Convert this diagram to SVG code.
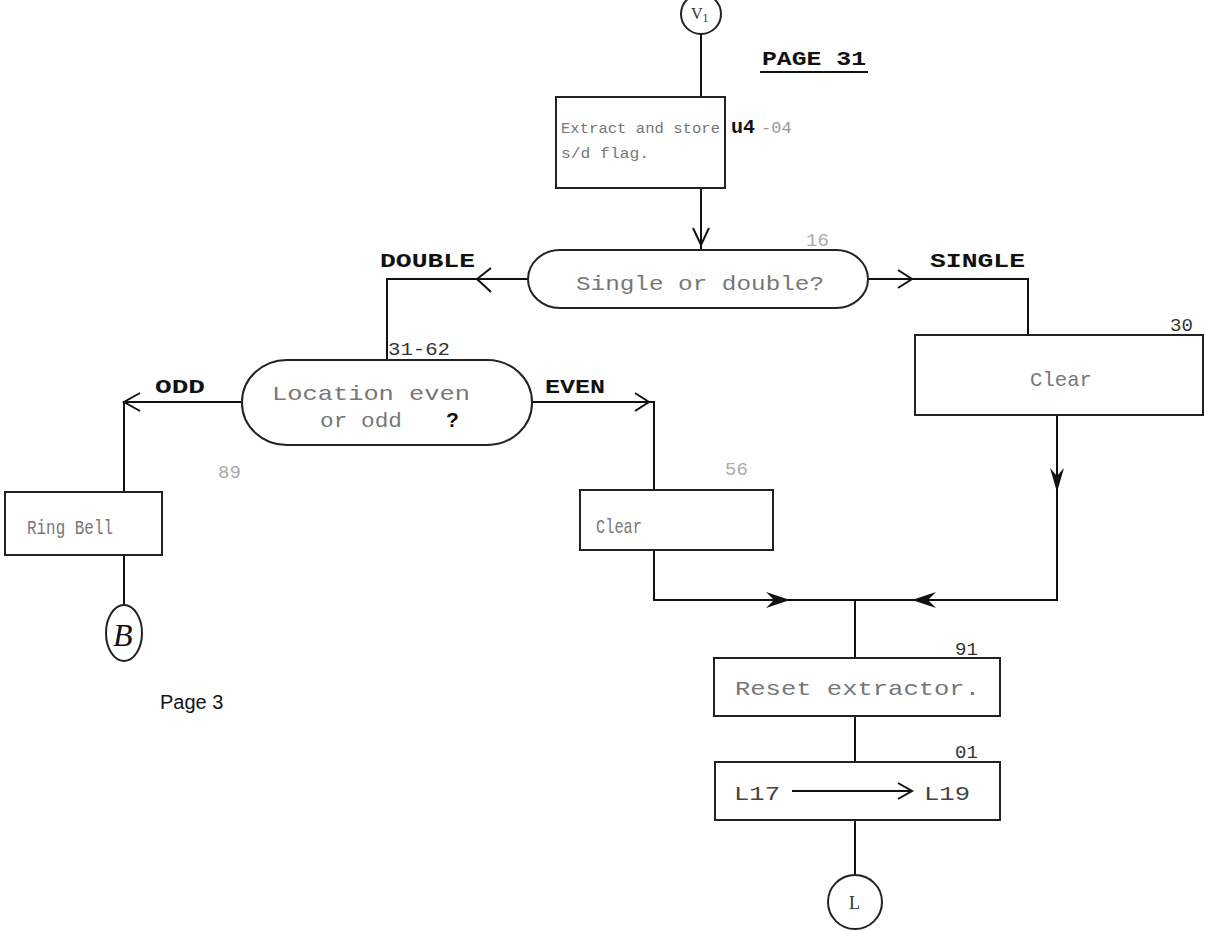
<svg xmlns="http://www.w3.org/2000/svg" width="1205" height="931" viewBox="0 0 1205 931">
<style>
.ln{stroke:#111;stroke-width:2;fill:none}
.box{stroke:#222;stroke-width:2;fill:#fff}
.tw{font-family:"Liberation Mono",monospace;font-size:21px;fill:#777}
.lbl{font-family:"Liberation Mono",monospace;font-weight:bold;font-size:20px;fill:#111}
.num{font-family:"Liberation Mono",monospace;font-size:19px;fill:#333}
.faint{fill:#aaa}
.ah{stroke:#111;stroke-width:2;fill:none}
.af{fill:#111;stroke:none}
</style>
<rect width="1205" height="931" fill="#fff"/>
<g id="connectors">
<path class="ln" d="M701 34 V97"/>
<path class="ln" d="M701 188 V250"/>
<path class="ah" d="M693 228 L701 245 L709 228"/>
<path class="ln" d="M528 279 H387 V360"/>
<path class="ah" d="M491 268 L477 279 L491 292"/>
<path class="ln" d="M868 279 H1028 V335"/>
<path class="ah" d="M898 270 L912 279 L898 288"/>
<path class="ln" d="M1057 415 V600 H855"/>
<path class="af" d="M1050 468 L1057 492 L1064 468 L1057 476 Z"/>
<path class="af" d="M936 592 L912 600 L936 608 L928 600 Z"/>
<path class="ln" d="M242 402 H124 V492"/>
<path class="ah" d="M140 393 L124 402 L140 411"/>
<path class="ln" d="M532 402 H654 V490"/>
<path class="ah" d="M635 393 L649 402 L635 411"/>
<path class="ln" d="M654 550 V600 H855"/>
<path class="af" d="M766 592 L790 600 L766 608 L774 600 Z"/>
<path class="ln" d="M855 600 V658"/>
<path class="ln" d="M855 716 V762"/>
<path class="ln" d="M855 820 V875"/>
<path class="ln" d="M124 555 V605"/>
</g>
<g id="page-title">
<text class="lbl" x="762" y="65" textLength="104" lengthAdjust="spacingAndGlyphs">PAGE 31</text>
<path class="ln" d="M760 72 H868"/>
</g>
<g id="v1">
<circle class="box" cx="701" cy="14" r="20"/>
<text x="691" y="19" font-family="Liberation Serif,serif" font-size="16" fill="#333">V<tspan font-size="12" dy="3">1</tspan></text>
</g>
<g id="extract">
<rect class="box" x="556" y="97" width="169" height="91"/>
<text class="tw" x="561" y="133" style="font-size:15.5px" textLength="159" lengthAdjust="spacingAndGlyphs">Extract and store</text>
<text class="tw" x="561" y="158" style="font-size:15.5px" textLength="88" lengthAdjust="spacingAndGlyphs">s/d flag.</text>
<text x="731" y="133" font-family="Liberation Mono,monospace" font-size="20" font-weight="bold" fill="#111">u4</text>
<text x="761" y="133" font-family="Liberation Mono,monospace" font-size="17" fill="#999">-04</text>
</g>
<g id="dec16">
<rect class="box" x="528" y="250" width="340" height="58" rx="32" ry="29"/>
<text class="tw" x="576" y="290" textLength="248" lengthAdjust="spacingAndGlyphs">Single or double?</text>
<text class="num faint" x="806" y="246">16</text>
<text class="lbl" x="380" y="267" textLength="95" lengthAdjust="spacingAndGlyphs">DOUBLE</text>
<text class="lbl" x="930" y="267" textLength="95" lengthAdjust="spacingAndGlyphs">SINGLE</text>
</g>
<g id="dec3162">
<rect class="box" x="242" y="360" width="290" height="85" rx="45" ry="42"/>
<text class="tw" x="272" y="400" textLength="198" lengthAdjust="spacingAndGlyphs">Location even</text>
<text class="tw" x="320" y="427" textLength="82" lengthAdjust="spacingAndGlyphs">or odd</text>
<text x="446" y="427" font-family="Liberation Sans,sans-serif" font-size="21" font-weight="bold" fill="#111">?</text>
<text class="num" x="388" y="355" textLength="62" lengthAdjust="spacingAndGlyphs">31-62</text>
<text class="lbl" x="155" y="393" textLength="50" lengthAdjust="spacingAndGlyphs">ODD</text>
<text class="lbl" x="545" y="393" textLength="60" lengthAdjust="spacingAndGlyphs">EVEN</text>
</g>
<g id="clear30">
<rect class="box" x="915" y="335" width="288" height="80"/>
<text class="tw" x="1030" y="386" textLength="62" lengthAdjust="spacingAndGlyphs">Clear</text>
<text class="num" x="1170" y="331">30</text>
</g>
<g id="ring89">
<rect class="box" x="5" y="492" width="157" height="63"/>
<text class="tw" x="27" y="534" textLength="86" lengthAdjust="spacingAndGlyphs">Ring Bell</text>
<text class="num faint" x="218" y="478">89</text>
</g>
<g id="b">
<ellipse class="box" cx="124" cy="633" rx="18" ry="28"/>
<text x="113" y="646" font-family="Liberation Serif,serif" font-style="italic" font-size="32" fill="#111">B</text>
</g>
<text x="160" y="709" font-family="Liberation Sans,sans-serif" font-size="20" fill="#111">Page 3</text>
<g id="clear56">
<rect class="box" x="580" y="490" width="193" height="60"/>
<text class="tw" x="596" y="533" textLength="46" lengthAdjust="spacingAndGlyphs">Clear</text>
<text class="num faint" x="725" y="475">56</text>
</g>
<g id="reset91">
<rect class="box" x="714" y="658" width="286" height="58"/>
<text class="tw" x="735" y="695" textLength="245" lengthAdjust="spacingAndGlyphs">Reset extractor.</text>
<text class="num" x="955" y="655">91</text>
</g>
<g id="move01">
<rect class="box" x="715" y="762" width="285" height="58"/>
<text class="tw" x="734" y="800" style="fill:#444" textLength="46" lengthAdjust="spacingAndGlyphs">L17</text>
<path class="ln" d="M792 791 H910"/>
<path class="ah" d="M898 783 L912 791 L898 799"/>
<text class="tw" x="924" y="800" style="fill:#444" textLength="46" lengthAdjust="spacingAndGlyphs">L19</text>
<text class="num" x="955" y="758">01</text>
</g>
<g id="l">
<circle class="box" cx="855" cy="902" r="27"/>
<text x="849" y="909" font-family="Liberation Serif,serif" font-size="18" fill="#333">L</text>
</g>
</svg>
